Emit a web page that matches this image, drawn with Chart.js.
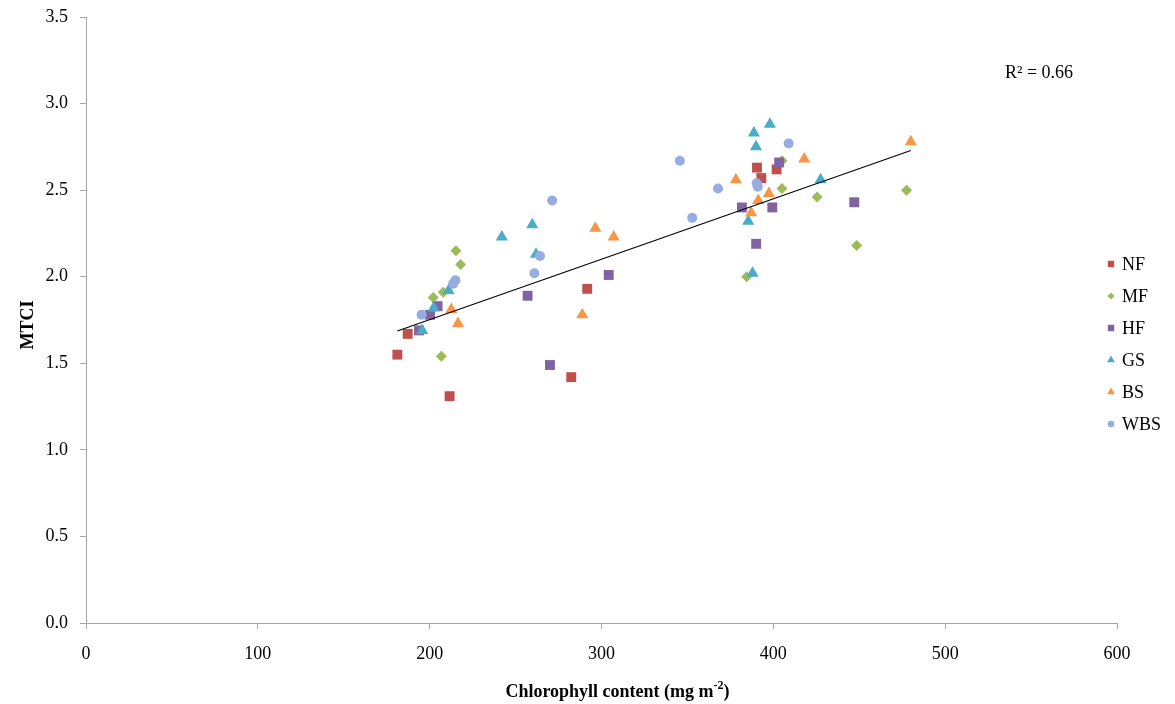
<!DOCTYPE html>
<html>
<head>
<meta charset="utf-8">
<script src="https://cdn.jsdelivr.net/npm/chart.js@4.4.1/dist/chart.umd.min.js"></script>
<style>
  html,body{margin:0;padding:0;background:#fff;}
  #wrap{width:1175px;height:704px;position:relative;}
</style>
</head>
<body>
<div id="wrap"><canvas id="c" width="1175" height="704"></canvas></div>
<script>
// chlorophyll content (mg m-2) vs MTCI, per site class
const nfX  = [181.2, 187.2, 211.6, 282.4, 291.7, 390.5, 393.0, 401.9];
const nfY  = [1.55, 1.67, 1.31, 1.42, 1.93, 2.63, 2.57, 2.62];
const mfX  = [215.3, 218.0, 202.1, 207.9, 206.8, 405.0, 405.0, 425.5, 448.5, 477.5, 384.5];
const mfY  = [2.15, 2.07, 1.88, 1.91, 1.54, 2.67, 2.51, 2.46, 2.18, 2.50, 2.00];
const hfX  = [193.8, 200.2, 204.6, 257.0, 270.0, 304.2, 381.7, 399.4, 390.0, 403.4, 447.1];
const hfY  = [1.69, 1.78, 1.83, 1.89, 1.49, 2.01, 2.40, 2.40, 2.19, 2.66, 2.43];
const gsX  = [195.7, 202.3, 211.0, 242.0, 259.7, 261.9, 398.0, 388.7, 389.9, 427.5, 385.4, 387.9];
const gsY  = [1.69, 1.82, 1.92, 2.23, 2.30, 2.13, 2.88, 2.83, 2.75, 2.56, 2.32, 2.02];
const bsX  = [212.6, 216.5, 288.8, 296.4, 307.1, 378.2, 391.2, 387.1, 397.4, 418.0, 480.0];
const bsY  = [1.81, 1.73, 1.78, 2.28, 2.23, 2.56, 2.44, 2.37, 2.48, 2.68, 2.78];
const wbsX = [271.3, 264.2, 260.9, 215.0, 213.7, 195.3, 345.6, 408.9, 367.8, 352.8, 390.3, 390.9];
const wbsY = [2.44, 2.12, 2.02, 1.98, 1.96, 1.78, 2.67, 2.77, 2.51, 2.34, 2.54, 2.52];

// linear trend over all points
const trendX = [181.2, 480.0];
const trendY = [1.687, 2.729];
const rSquared = '0.66';

const series = [
  {label:'NF',  xs:nfX,  ys:nfY,  color:'#C0504D', style:'rect',     r:7},
  {label:'MF',  xs:mfX,  ys:mfY,  color:'#9BBB59', style:'rectRot',  r:5.5},
  {label:'HF',  xs:hfX,  ys:hfY,  color:'#8064A2', style:'rect',     r:7},
  {label:'GS',  xs:gsX,  ys:gsY,  color:'#4BACC6', style:'triangle', r:7},
  {label:'BS',  xs:bsX,  ys:bsY,  color:'#F79646', style:'triangle', r:7},
  {label:'WBS', xs:wbsX, ys:wbsY, color:'#98ACE4', style:'circle',   r:5}
];

const pts = (xs, ys) => xs.map((x,i)=>({x, y:ys[i]}));
const FONT = "'Liberation Serif','Times New Roman',serif";
const AXIS = '#a6a6a6';

const datasets = series.map((s,i)=>({
  label:s.label, data:pts(s.xs,s.ys),
  pointStyle:s.style, pointRadius:s.r, pointHoverRadius:s.r,
  backgroundColor:s.color, borderColor:s.color, borderWidth:0,
  order:series.length - i
}));
datasets.push({
  label:'trend', type:'line', data:pts(trendX,trendY),
  showLine:true, pointRadius:0, borderColor:'#000', borderWidth:1.1, fill:false, order:0
});

// axis titles, R² note and the side legend
const extras = {
  id:'extras',
  afterDraw(chart){
    const {ctx, chartArea:a} = chart;
    ctx.save();
    ctx.fillStyle = '#000';

    // y title
    ctx.font = 'bold 18px ' + FONT;
    ctx.translate(28, (a.top + a.bottom)/2 + 5);
    ctx.rotate(-Math.PI/2);
    ctx.textAlign = 'center'; ctx.textBaseline = 'middle';
    ctx.fillText('MTCI', 0, 0);
    ctx.setTransform(1,0,0,1,0,0);

    // x title with superscript
    const main = 'Chlorophyll content (mg m', sup = '-2', tail = ')';
    ctx.font = 'bold 18px ' + FONT;
    const w1 = ctx.measureText(main).width, w3 = ctx.measureText(tail).width;
    ctx.font = 'bold 12px ' + FONT;
    const w2 = ctx.measureText(sup).width;
    let x = (a.left + a.right)/2 + 16 - (w1 + w2 + w3)/2;
    const y = a.bottom + 69;
    ctx.textAlign = 'left'; ctx.textBaseline = 'middle';
    ctx.font = 'bold 18px ' + FONT; ctx.fillText(main, x, y); x += w1;
    ctx.font = 'bold 12px ' + FONT; ctx.fillText(sup, x, y - 6); x += w2;
    ctx.font = 'bold 18px ' + FONT; ctx.fillText(tail, x, y);

    // R² label
    ctx.font = '18px ' + FONT;
    ctx.textAlign = 'left';
    ctx.fillText('R\u00B2 = ' + rSquared, a.right - 112, a.top + 56);

    // legend
    series.forEach((s,i)=>{
      const ly = a.top + 247 + i*32;
      ctx.fillStyle = s.color;
      Chart.helpers.drawPoint(ctx, {pointStyle:s.style, radius:s.r*0.65, rotation:0, borderWidth:0}, a.right - 6, ly);
      ctx.fillStyle = '#000';
      ctx.font = '18px ' + FONT;
      ctx.textBaseline = 'middle';
      ctx.fillText(s.label, a.right + 5, ly + 1);
    });
    ctx.restore();
  }
};

new Chart(document.getElementById('c'), {
  type:'scatter',
  data:{datasets},
  plugins:[extras],
  options:{
    responsive:false, animation:false,
    layout:{padding:{top:17, right:58, left:0, bottom:0}},
    plugins:{legend:{display:false}, tooltip:{enabled:false}},
    scales:{
      x:{
        type:'linear', min:0, max:600,
        afterFit(s){ s.height = 81; s.paddingLeft = 0; s.paddingRight = 0; },
        ticks:{stepSize:100, color:'#000', font:{family:FONT, size:18}, padding:14, maxRotation:0},
        grid:{drawOnChartArea:false, tickLength:6, color:AXIS},
        border:{color:AXIS, width:1}
      },
      y:{
        min:0, max:3.5,
        afterFit(s){ s.width = 86; s.paddingTop = 0; s.paddingBottom = 0; },
        ticks:{stepSize:0.5, color:'#000', font:{family:FONT, size:18}, padding:12, callback:v=>v.toFixed(1)},
        grid:{drawOnChartArea:false, tickLength:6, color:AXIS},
        border:{color:AXIS, width:1}
      }
    }
  }
});
</script>
</body>
</html>
